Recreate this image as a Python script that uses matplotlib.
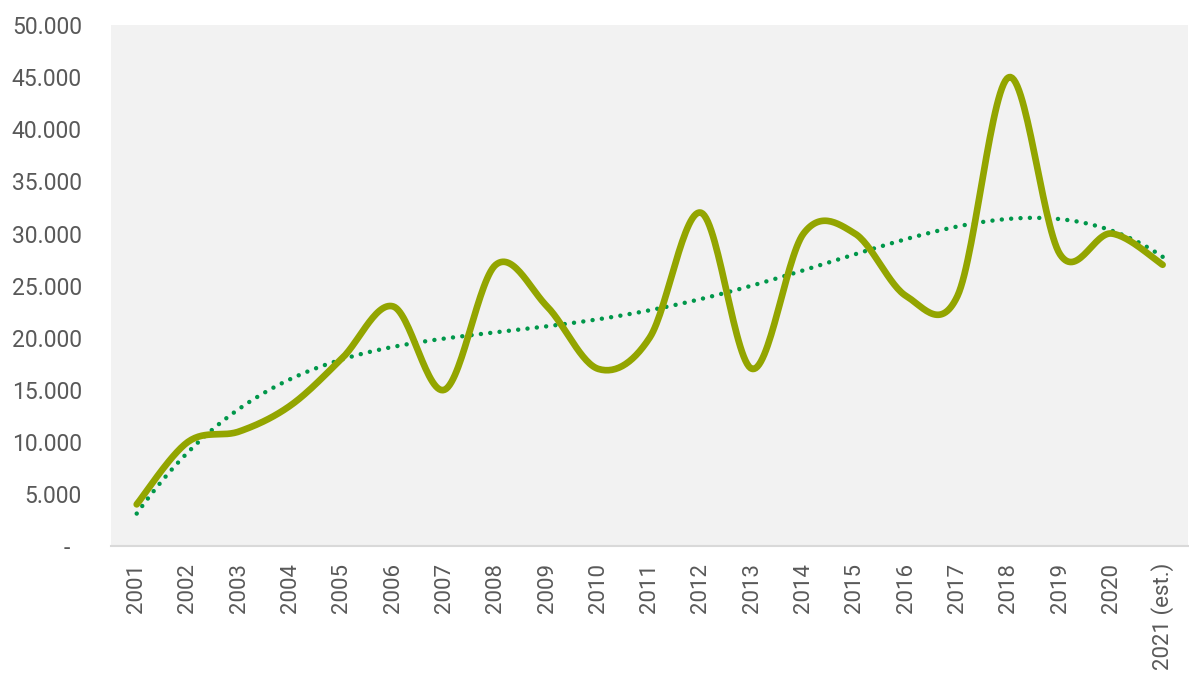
import numpy as np
import matplotlib
matplotlib.use('Agg')
import matplotlib.pyplot as plt
from matplotlib.ticker import FuncFormatter

# data
years = ['2001', '2002', '2003', '2004', '2005', '2006', '2007', '2008', '2009', '2010',
         '2011', '2012', '2013', '2014', '2015', '2016', '2017', '2018', '2019', '2020',
         '2021 (est.)']
values = [4000, 10000, 11000, 13500, 18000, 23000, 15000, 27000, 23000, 17000,
          20000, 32000, 17000, 30000, 30000, 24000, 24000, 45000, 28000, 30000,
          27000]
y_ticks = [0, 5000, 10000, 15000, 20000, 25000, 30000, 35000, 40000, 45000, 50000]

line_col = '#93A500'
trend_col = '#00974A'
text_col = '#595959'

plt.rcParams['font.family'] = ['Roboto', 'DejaVu Sans']


def smooth(x, y, n=30):
    # catmull-rom style smoothing like the office "smoothed line"
    x = np.asarray(x, float)
    y = np.asarray(y, float)
    xp = np.concatenate([[x[0]], x, [x[-1]]])
    yp = np.concatenate([[y[0]], y, [y[-1]]])
    xs, ys = [], []
    for i in range(1, len(xp) - 2):
        t = np.linspace(0, 1, n, endpoint=False)
        h00 = 2 * t**3 - 3 * t**2 + 1
        h10 = t**3 - 2 * t**2 + t
        h01 = -2 * t**3 + 3 * t**2
        h11 = t**3 - t**2
        mx1 = (xp[i + 1] - xp[i - 1]) / 2
        mx2 = (xp[i + 2] - xp[i]) / 2
        my1 = (yp[i + 1] - yp[i - 1]) / 2
        my2 = (yp[i + 2] - yp[i]) / 2
        xs.append(h00 * xp[i] + h10 * mx1 + h01 * xp[i + 1] + h11 * mx2)
        ys.append(h00 * yp[i] + h10 * my1 + h01 * yp[i + 1] + h11 * my2)
    xs.append([x[-1]])
    ys.append([y[-1]])
    return np.concatenate(xs), np.concatenate(ys)


x = np.arange(len(years))

fig = plt.figure(figsize=(11.89, 6.8), dpi=100, facecolor='white')
ax = fig.add_axes([0.0934, 0.197, 0.906, 0.766])
ax.set_facecolor('#F2F2F2')

# polynomial trendline
coef = np.polyfit(x + 1, values, 4)
xt = np.linspace(0, len(years) - 1, 300)
ax.plot(xt, np.polyval(coef, xt + 1), color=trend_col, lw=3.2,
        linestyle=(0, (0.01, 2.1)), dash_capstyle='round', zorder=3)

sx, sy = smooth(x, values)
ax.plot(sx, sy, color=line_col, lw=4.8, solid_capstyle='round',
        solid_joinstyle='round', zorder=4)

ax.set_xlim(-0.5, len(years) - 0.5)
ax.set_ylim(0, 50000)
ax.set_xticks(x)
ax.set_xticklabels(years, rotation=90, fontsize=16, color=text_col)
ax.set_yticks(y_ticks)
ax.yaxis.set_major_formatter(FuncFormatter(
    lambda v, p: '-  ' if v == 0 else '{:,.0f}'.format(v).replace(',', '.')))
ax.tick_params(axis='y', length=0, pad=21, labelsize=16.5, labelcolor=text_col)
ax.tick_params(axis='x', length=0, pad=12)

for s in ['top', 'right', 'left']:
    ax.spines[s].set_visible(False)
ax.spines['bottom'].set_color('#D9D9D9')
ax.spines['bottom'].set_linewidth(1.5)

fig.savefig('out.png', dpi=100)
